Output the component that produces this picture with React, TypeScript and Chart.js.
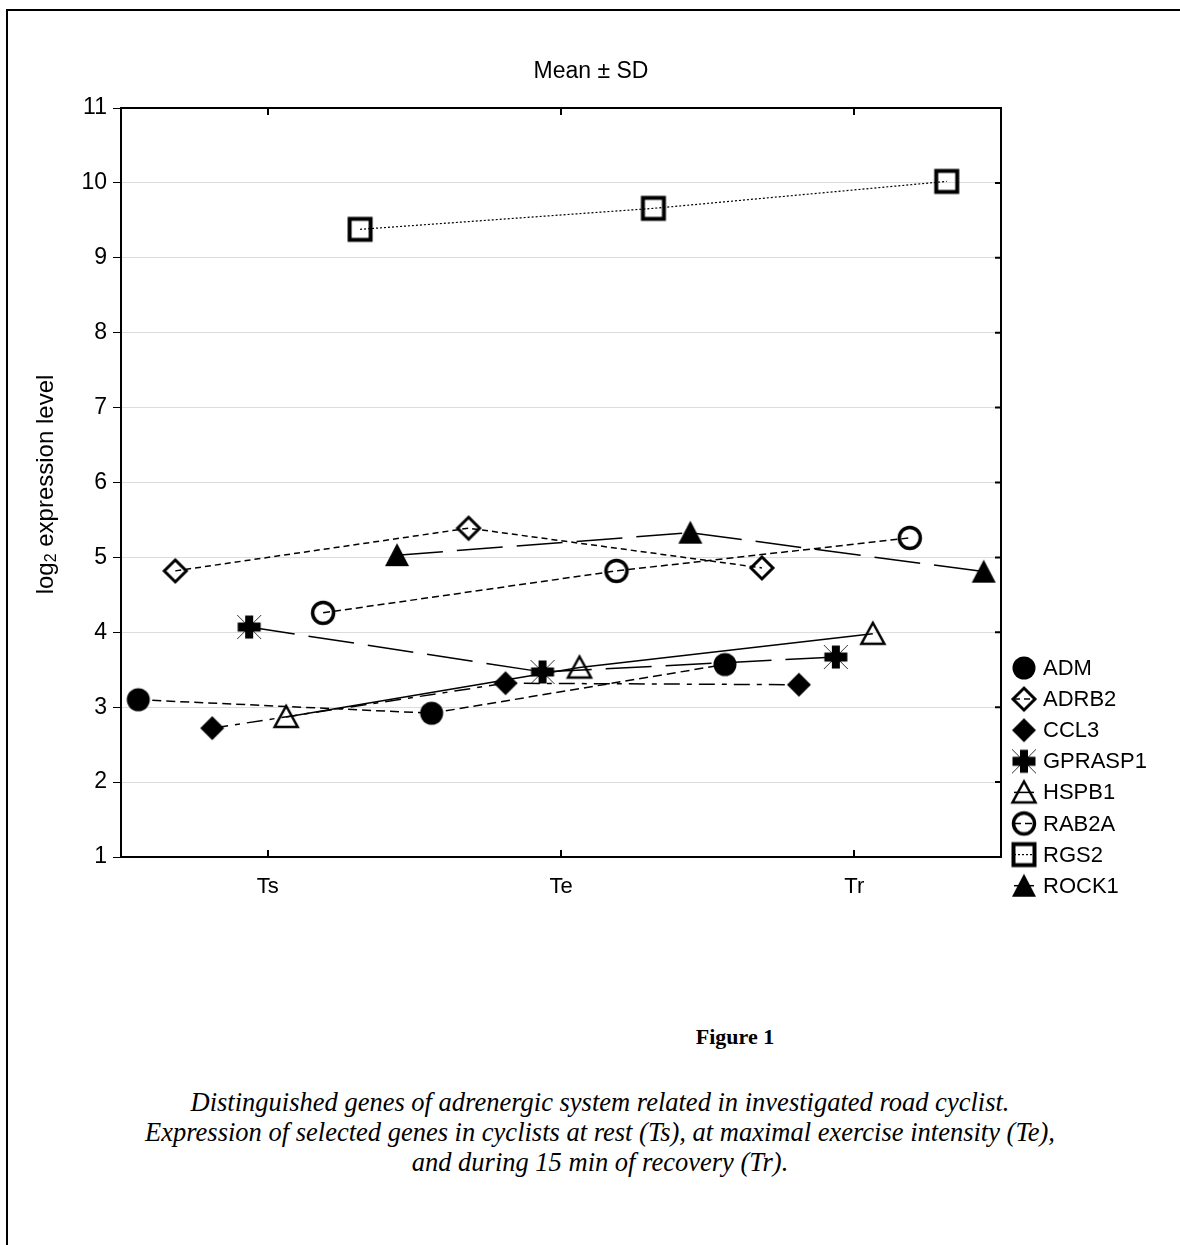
import React, { useEffect, useRef } from "react";
import { Chart, registerables } from "chart.js";
Chart.register(...registerables);

// ---- data ----
const categories = ["Ts", "Te", "Tr"];
const genes = ["ADM", "ADRB2", "CCL3", "GPRASP1", "HSPB1", "RAB2A", "RGS2", "ROCK1"];
const ADM = [3.1, 2.92, 3.57];
const ADRB2 = [4.82, 5.39, 4.86];
const CCL3 = [2.72, 3.32, 3.3];
const GPRASP1 = [4.07, 3.47, 3.67];
const HSPB1 = [2.87, 3.53, 3.98];
const RAB2A = [4.26, 4.82, 5.26];
const RGS2 = [9.38, 9.66, 10.02];
const ROCK1 = [5.03, 5.33, 4.81];
const seriesValues = [ADM, ADRB2, CCL3, GPRASP1, HSPB1, RAB2A, RGS2, ROCK1];
const yTicks = [1, 2, 3, 4, 5, 6, 7, 8, 9, 10, 11];
const DODGE = 0.126; // horizontal offset between genes within a time point

// ---- styles ----
const markerKinds = ["circleFilled", "diamondOpen", "diamondFilled", "cross", "triangleOpen", "circleOpen", "squareOpen", "triangleFilled"];
const dashes: number[][] = [[9, 5], [6, 4], [16, 7, 5, 7], [46, 14], [], [7, 4], [2, 2], [46, 14]];
const lineWidths = [1.5, 1.5, 1.5, 1.5, 1.5, 1.5, 1.2, 1.5];

const SANS = "'Liberation Sans', Arial, sans-serif";

function makeMarker(kind: string): HTMLCanvasElement {
  const c = document.createElement("canvas");
  c.width = 30;
  c.height = 30;
  const g = c.getContext("2d")!;
  const cx = 15, cy = 15;
  g.fillStyle = "#000";
  g.strokeStyle = "#000";
  g.lineJoin = "miter";
  switch (kind) {
    case "circleFilled":
      g.beginPath(); g.arc(cx, cy, 11.5, 0, Math.PI * 2); g.fill(); break;
    case "circleOpen":
      g.lineWidth = 3.5; g.beginPath(); g.arc(cx, cy, 10.5, 0, Math.PI * 2); g.stroke(); break;
    case "diamondOpen":
      g.lineWidth = 3; g.beginPath(); g.moveTo(cx, cy - 11); g.lineTo(cx + 11, cy); g.lineTo(cx, cy + 11); g.lineTo(cx - 11, cy); g.closePath(); g.stroke(); break;
    case "diamondFilled":
      g.beginPath(); g.moveTo(cx, cy - 12); g.lineTo(cx + 12, cy); g.lineTo(cx, cy + 12); g.lineTo(cx - 12, cy); g.closePath(); g.fill(); break;
    case "squareOpen":
      g.lineWidth = 4; g.strokeRect(cx - 10.5, cy - 10.5, 21, 21); break;
    case "triangleOpen":
      g.lineWidth = 2.5; g.beginPath(); g.moveTo(cx, cy - 11); g.lineTo(cx + 11.5, cy + 10); g.lineTo(cx - 11.5, cy + 10); g.closePath(); g.stroke(); break;
    case "triangleFilled":
      g.beginPath(); g.moveTo(cx, cy - 12); g.lineTo(cx + 12, cy + 11); g.lineTo(cx - 12, cy + 11); g.closePath(); g.fill(); break;
    case "cross":
      g.lineWidth = 1; g.strokeStyle = "#333";
      g.beginPath(); g.moveTo(cx - 12, cy - 12); g.lineTo(cx + 12, cy + 12); g.moveTo(cx + 12, cy - 12); g.lineTo(cx - 12, cy + 12); g.stroke();
      g.fillRect(cx - 4, cy - 11.5, 8, 23);
      g.fillRect(cx - 11.5, cy - 4.5, 23, 9);
      break;
  }
  return c;
}

export default function App() {
  const ref = useRef<HTMLCanvasElement | null>(null);

  useEffect(() => {
    const canvas = ref.current;
    if (!canvas) return;
    const markers = markerKinds.map(makeMarker);

    const datasets = genes.map((name, i) => ({
      label: name,
      data: seriesValues[i].map((v, j) => ({ x: j + (i - 3.5) * DODGE, y: v })),
      borderColor: "#000",
      backgroundColor: "#000",
      borderWidth: lineWidths[i],
      borderDash: dashes[i],
      pointStyle: markers[i],
      pointRadius: 12,
      tension: 0,
      fill: false,
    }));

    const decor = {
      id: "decor",
      afterDraw(chart: any) {
        const ctx = chart.ctx;
        const a = chart.chartArea;
        const xs = chart.scales.x;
        const ys = chart.scales.y;
        ctx.save();
        // frame
        ctx.strokeStyle = "#000";
        ctx.lineWidth = 2;
        ctx.setLineDash([]);
        ctx.strokeRect(a.left, a.top, a.right - a.left, a.bottom - a.top);
        // inward ticks top/bottom
        ctx.beginPath();
        categories.forEach((_, j) => {
          const px = Math.round(xs.getPixelForValue(j));
          ctx.moveTo(px, a.bottom); ctx.lineTo(px, a.bottom - 7);
          ctx.moveTo(px, a.top); ctx.lineTo(px, a.top + 7);
        });
        // inward ticks right
        yTicks.forEach((t) => {
          const py = ys.getPixelForValue(t);
          ctx.moveTo(a.right, py); ctx.lineTo(a.right - 6, py);
        });
        ctx.stroke();
        // title
        ctx.fillStyle = "#000";
        ctx.font = `23px ${SANS}`;
        ctx.textAlign = "center";
        ctx.textBaseline = "middle";
        ctx.fillText("Mean ± SD", 591, 72);
        // y label with subscript
        ctx.save();
        ctx.translate(46, (a.top + a.bottom) / 2 + 2);
        ctx.rotate(-Math.PI / 2);
        ctx.textAlign = "left";
        const mainFont = `24px ${SANS}`;
        const subFont = `16px ${SANS}`;
        ctx.font = mainFont;
        const w1 = ctx.measureText("log").width;
        const w3 = ctx.measureText(" expression level").width;
        ctx.font = subFont;
        const w2 = ctx.measureText("2").width;
        let sx = -(w1 + w2 + w3) / 2;
        ctx.font = mainFont;
        ctx.fillText("log", sx, 0);
        sx += w1;
        ctx.font = subFont;
        ctx.fillText("2", sx, 6);
        sx += w2;
        ctx.font = mainFont;
        ctx.fillText(" expression level", sx, 0);
        ctx.restore();
        // legend
        const lx = 1024;
        genes.forEach((name, i) => {
          const ly = 668 + i * 31.1;
          ctx.strokeStyle = "#000";
          ctx.lineWidth = lineWidths[i];
          ctx.setLineDash(dashes[i]);
          ctx.beginPath();
          ctx.moveTo(lx - 10, ly); ctx.lineTo(lx + 10, ly);
          ctx.stroke();
          ctx.setLineDash([]);
          const m = markers[i];
          ctx.drawImage(m, lx - m.width / 2, ly - m.height / 2);
          ctx.fillStyle = "#000";
          ctx.font = `22px ${SANS}`;
          ctx.textAlign = "left";
          ctx.textBaseline = "middle";
          ctx.fillText(name, lx + 19, ly + 1);
        });
        ctx.restore();
      },
    };

    const chart = new Chart(canvas, {
      type: "line",
      data: { datasets: datasets as any },
      options: {
        animation: false,
        responsive: false,
        events: [],
        layout: { padding: { left: 0, top: 108, right: 179, bottom: 0 } },
        plugins: { legend: { display: false }, title: { display: false }, tooltip: { enabled: false } },
        scales: {
          x: {
            type: "linear",
            min: -0.5,
            max: 2.5,
            afterBuildTicks: (s: any) => { s.ticks = categories.map((_, j) => ({ value: j })); },
            afterFit: (s: any) => { s.height = 920 - 857; },
            ticks: {
              callback: (v: any) => categories[Math.round(Number(v))] ?? "",
              font: { family: SANS, size: 22 },
              color: "#000",
              padding: 17,
              maxRotation: 0,
              autoSkip: false,
            },
            grid: { display: true, drawOnChartArea: false, drawTicks: false, tickLength: 0 },
            border: { display: false },
          },
          y: {
            min: 1,
            max: 11,
            afterBuildTicks: (s: any) => { s.ticks = yTicks.map((v) => ({ value: v })); },
            afterFit: (s: any) => { s.width = 121; },
            ticks: {
              font: { family: SANS, size: 23 },
              color: "#000",
              padding: 6,
              autoSkip: false,
            },
            grid: { color: "#dcdcdc", lineWidth: 1, tickColor: "#000", tickLength: 8, drawTicks: true },
            border: { display: false },
          },
        },
      },
      plugins: [decor],
    });
    return () => chart.destroy();
  }, []);

  const serif = "'Liberation Serif', 'Times New Roman', serif";
  return (
    <div style={{ position: "absolute", left: 0, top: 0, width: 1180, height: 1245, background: "#fff", overflow: "hidden" }}>
      <div style={{ position: "absolute", left: 6, top: 9, width: 1180, height: 2, background: "#000" }} />
      <div style={{ position: "absolute", left: 6, top: 9, width: 2, height: 1245, background: "#000" }} />
      <canvas ref={ref} width={1180} height={920} style={{ position: "absolute", left: 0, top: 0, width: 1180, height: 920 }} />
      <div style={{ position: "absolute", left: 535, top: 1022, width: 400, textAlign: "center", fontFamily: serif, fontWeight: "bold", fontSize: 22, lineHeight: "30px" }}>
        Figure 1
      </div>
      <div style={{ position: "absolute", left: 0, top: 1087, width: 1200, textAlign: "center", fontFamily: serif, fontStyle: "italic", fontSize: 26.5, lineHeight: "30px" }}>
        Distinguished genes of adrenergic system related in investigated road cyclist.
        <br />
        Expression of selected genes in cyclists at rest (Ts), at maximal exercise intensity (Te),
        <br />
        and during 15 min of recovery (Tr).
      </div>
    </div>
  );
}
